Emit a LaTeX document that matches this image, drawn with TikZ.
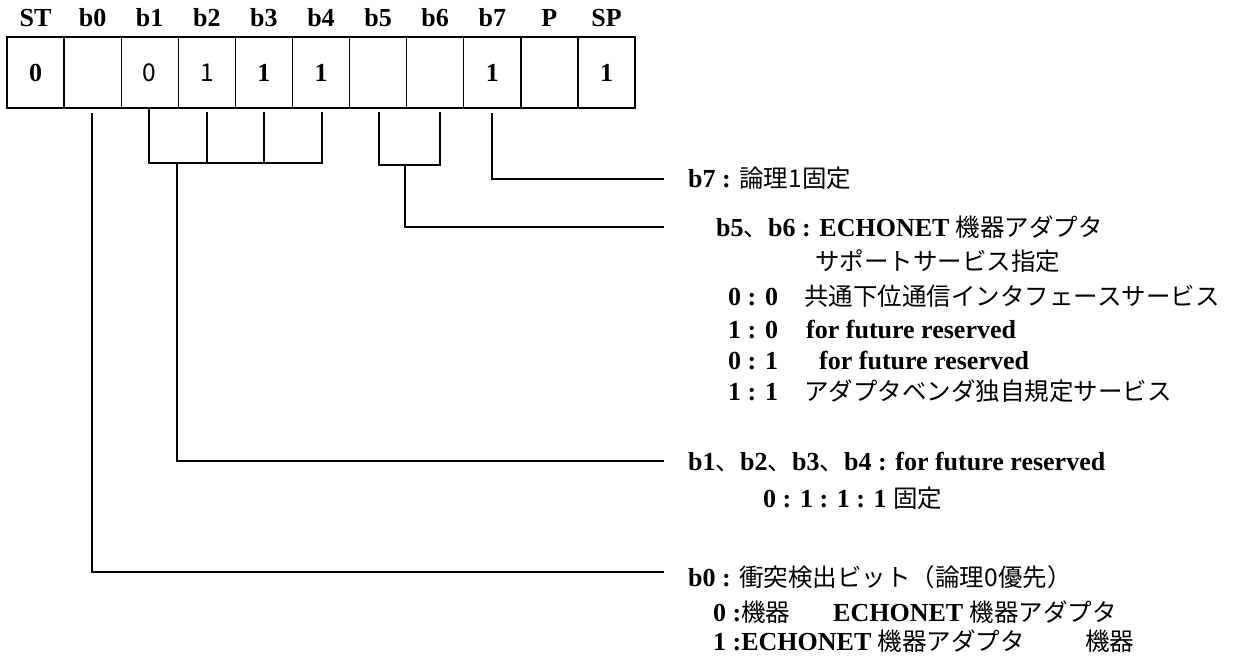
\documentclass[tikz,border=0pt]{standalone}
\usepackage{fontspec}
\setmainfont{Liberation Serif}
\newfontfamily\jp{Noto Sans CJK JP}
\newcommand{\J}[1]{{\jp\mdseries\fontsize{24.5}{26}\selectfont #1}}
\begin{document}
\begin{tikzpicture}[x=1pt,y=-1pt,
  cell/.style={draw,line width=1.3pt,minimum width=57.1pt,minimum height=71pt,inner sep=0pt,font=\bfseries\fontsize{26}{26}\selectfont},
  hdr/.style={font=\bfseries\fontsize{26}{26}\selectfont,inner sep=0pt},
  txt/.style={anchor=base west,inner sep=0pt,font=\bfseries\fontsize{26}{26}\selectfont},
  ln/.style={line width=1.3pt}]
\useasboundingbox (0,0) rectangle (1247,658);
% cells
\foreach \i/\h/\v in {0/ST/0,1/b0/,2/b1/\J{0},3/b2/\J{1},4/b3/1,5/b4/1,6/b5/,7/b6/,8/b7/1,9/P/,10/SP/1}{
  \node[cell] (c\i) at ({35.5+57.1*\i},72.5) {\v};
  \node[hdr] (h\i) at ({35.5+57.1*\i},18) {\h};
}
% coordinates
\coordinate (b0t) at (92,113);
\coordinate (b0c) at (92,572);
\coordinate (b0e) at (664,572);
\coordinate (b1t) at (149,108);
\coordinate (b1c) at (149,163);
\coordinate (b4c) at (322,163);
\coordinate (b2t) at (207,112);
\coordinate (b2c) at (207,163);
\coordinate (b3t) at (264,112);
\coordinate (b3c) at (264,163);
\coordinate (b4t) at (322,112);
\coordinate (bra) at (177,163);
\coordinate (brb) at (177,461);
\coordinate (bre) at (664,461);
\coordinate (b5t) at (379,112);
\coordinate (b5c) at (379,165);
\coordinate (b6t) at (440,112);
\coordinate (b6c) at (440,165);
\coordinate (b56) at (405,165);
\coordinate (b56b) at (405,227);
\coordinate (b56e) at (664,227);
\coordinate (b7t) at (492,113);
\coordinate (b7c) at (492,179);
\coordinate (b7e) at (664,179);
% connectors
\draw[ln] (b0t) -- (b0c) -- (b0e);
\draw[ln] (b1t) -- (b1c) -- (b4c) -- (b4t);
\draw[ln] (b2t) -- (b2c);
\draw[ln] (b3t) -- (b3c);
\draw[ln] (bra) -- (brb) -- (bre);
\draw[ln] (b5t) -- (b5c) -- (b6c) -- (b6t);
\draw[ln] (b56) -- (b56b) -- (b56e);
\draw[ln] (b7t) -- (b7c) -- (b7e);
% texts
\node[txt] (t7) at (688,187) {b7 : \J{論理1固定}};
\node[txt] (t56) at (716,236) {b5\J{、}b6 : ECHONET \J{機器アダプタ}};
\node[txt] (t56a) at (815,270) {\J{サポートサービス指定}};
\node[txt] (t56b) at (728,305) {\makebox[76pt][l]{0 : 0}\J{共通下位通信インタフェースサービス}};
\node[txt] (t56c) at (728,338) {\makebox[78pt][l]{1 : 0}for future reserved};
\node[txt] (t56d) at (728,369) {\makebox[91pt][l]{0 : 1}for future reserved};
\node[txt] (t56e) at (728,400) {\makebox[76pt][l]{1 : 1}\J{アダプタベンダ独自規定サービス}};
\node[txt] (t14) at (688,470) {b1\J{、}b2\J{、}b3\J{、}b4 : for future reserved};
\node[txt] (t14a) at (763,507) {0 : 1 : 1 : 1 \J{固定}};
\node[txt] (t0) at (688,586) {b0 : \J{衝突検出ビット（論理0優先）}};
\node[txt] (t0a) at (713,621) {\makebox[120pt][l]{0 :\J{機器}}ECHONET \J{機器アダプタ}};
\node[txt] (t0b) at (713,650) {\makebox[372pt][l]{1 :ECHONET \J{機器アダプタ}}\J{機器}};
\end{tikzpicture}
\end{document}
